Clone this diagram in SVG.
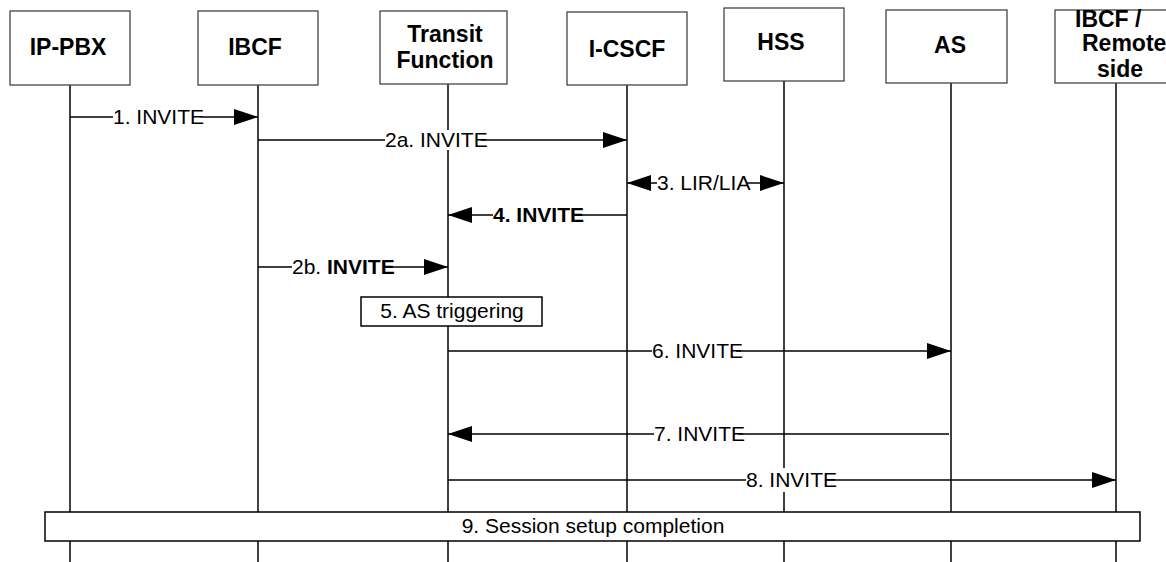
<svg xmlns="http://www.w3.org/2000/svg" width="1166" height="562" viewBox="0 0 1166 562">
<defs>
<style>
.box{fill:#fff;stroke:#444;stroke-width:1.3}
.life{stroke:#000;stroke-width:1.5}
.nl{font-family:"Liberation Sans",Arial,sans-serif;font-weight:bold;font-size:23px;fill:#000;text-anchor:middle}
.msg{stroke:#000;stroke-width:1.5;fill:none}
.lbl{font-family:"Liberation Sans",Arial,sans-serif;font-size:21px;fill:#000}
.bg{fill:#fff;stroke:none}
.act{fill:#fff;stroke:#000;stroke-width:1.5}
</style>
<marker id="arr" viewBox="0 0 24 16" refX="24" refY="8" markerWidth="24" markerHeight="16" markerUnits="userSpaceOnUse" orient="auto-start-reverse">
<path d="M0,0 L24,8 L0,16 z" fill="#000"/>
</marker>
</defs>
<rect width="1166" height="562" fill="#fff"/>

<g id="n-ippbx">
<line class="life" x1="70" y1="85" x2="70" y2="562"/>
<rect class="box" x="10" y="11" width="120" height="74"/>
<text class="nl" x="68" y="55">IP-PBX</text>
</g>
<g id="n-ibcf">
<line class="life" x1="258" y1="85" x2="258" y2="562"/>
<rect class="box" x="198" y="11" width="120" height="74"/>
<text class="nl" x="255" y="55">IBCF</text>
</g>
<g id="n-transit">
<line class="life" x1="448" y1="84" x2="448" y2="562"/>
<rect class="box" x="380" y="11" width="127" height="73"/>
<text class="nl" x="445" y="42">Transit</text>
<text class="nl" x="445" y="68">Function</text>
</g>
<g id="n-icscf">
<line class="life" x1="627" y1="85" x2="627" y2="562"/>
<rect class="box" x="567" y="12" width="120" height="73"/>
<text class="nl" x="627" y="57">I-CSCF</text>
</g>
<g id="n-hss">
<line class="life" x1="784" y1="81" x2="784" y2="562"/>
<rect class="box" x="724" y="8" width="120" height="73"/>
<text class="nl" x="781" y="50">HSS</text>
</g>
<g id="n-as">
<line class="life" x1="951" y1="83" x2="951" y2="562"/>
<rect class="box" x="886" y="10" width="121" height="73"/>
<text class="nl" x="950" y="53">AS</text>
</g>
<g id="n-remote">
<line class="life" x1="1116" y1="83" x2="1116" y2="562"/>
<rect class="box" x="1055" y="10" width="130" height="73"/>
<text class="nl" x="1075" y="27" style="text-anchor:start">IBCF /</text>
<text class="nl" x="1082" y="51" style="text-anchor:start">Remote</text>
<text class="nl" x="1120" y="77">side</text>
</g>

<g id="connectors">
<g id="m1">
<line class="msg" x1="70" y1="117" x2="258" y2="117" marker-end="url(#arr)"/>
<rect class="bg" x="113" y="107" width="88" height="20"/>
<text class="lbl" x="113" y="124">1. INVITE</text>
</g>
<g id="m2a">
<line class="msg" x1="258" y1="140" x2="627" y2="140" marker-end="url(#arr)"/>
<rect class="bg" x="385" y="130" width="96" height="20"/>
<text class="lbl" x="385" y="147">2a. INVITE</text>
</g>
<g id="m3">
<line class="msg" x1="627" y1="183" x2="784" y2="183" marker-start="url(#arr)" marker-end="url(#arr)"/>
<rect class="bg" x="657" y="173" width="90" height="20"/>
<text class="lbl" x="657" y="190">3. LIR/LIA</text>
</g>
<g id="m4">
<line class="msg" x1="627" y1="215" x2="448" y2="215" marker-end="url(#arr)"/>
<rect class="bg" x="493" y="205" width="88" height="20"/>
<text class="lbl" x="493" y="222" font-weight="bold">4. INVITE</text>
</g>
<g id="m2b">
<line class="msg" x1="258" y1="267" x2="448" y2="267" marker-end="url(#arr)"/>
<rect class="bg" x="292" y="257" width="99" height="20"/>
<text class="lbl" x="292" y="274">2b. <tspan font-weight="bold">INVITE</tspan></text>
</g>
<g id="m5">
<rect class="act" x="361" y="297" width="181" height="29"/>
<text class="lbl" x="452" y="318" text-anchor="middle">5. AS triggering</text>
</g>
<g id="m6">
<line class="msg" x1="448" y1="351" x2="951" y2="351" marker-end="url(#arr)"/>
<rect class="bg" x="652" y="341" width="84" height="20"/>
<text class="lbl" x="652" y="358">6. INVITE</text>
</g>
<g id="m7">
<line class="msg" x1="949" y1="434" x2="448" y2="434" marker-end="url(#arr)"/>
<rect class="bg" x="654" y="424" width="84" height="20"/>
<text class="lbl" x="654" y="441">7. INVITE</text>
</g>
<g id="m8">
<line class="msg" x1="448" y1="480" x2="1116" y2="480" marker-end="url(#arr)"/>
<rect class="bg" x="746" y="468" width="80" height="24"/>
<text class="lbl" x="746" y="487">8. INVITE</text>
</g>
<g id="m9">
<rect class="act" x="45" y="512" width="1095" height="29"/>
<text class="lbl" x="593" y="533" text-anchor="middle">9. Session setup completion</text>
</g>
</g>
</svg>
